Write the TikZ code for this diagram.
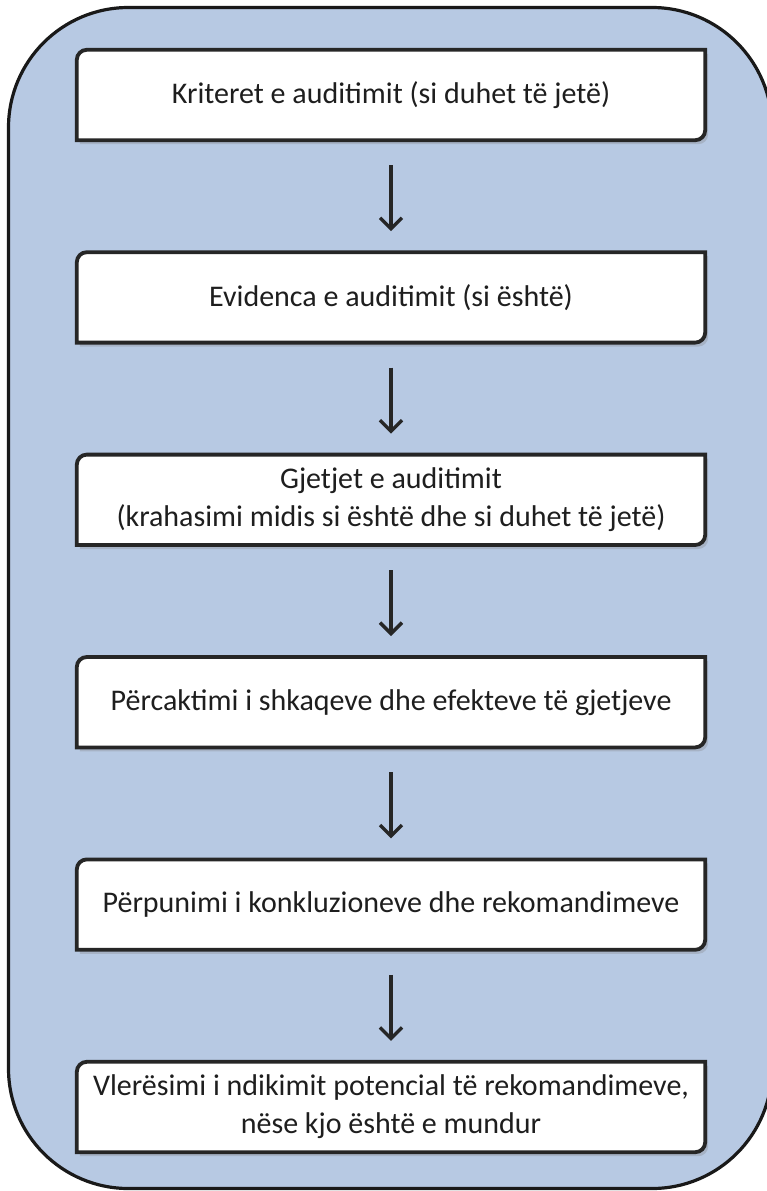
\documentclass[tikz,border=0pt]{standalone}
\usepackage{fontspec}
\setmainfont{Carlito}
\usepackage{tikz}
\usetikzlibrary{arrows.meta,positioning,shadows,backgrounds}
\definecolor{framefill}{RGB}{183,201,227}
\definecolor{textgray}{RGB}{30,30,30}
\tikzset{
  stepnode/.style={
    minimum width=628pt,
    minimum height=90pt,
    inner sep=0pt,
    align=center,
    text=textgray,
    font=\fontsize{30}{38}\selectfont
  },
  stepline/.style={
    draw=black!85,
    line width=3.8pt,
    fill=white,
    drop shadow={shadow xshift=3pt, shadow yshift=-4pt, opacity=0.3}
  },
  frameline/.style={
    draw=black!90,
    line width=3.2pt,
    fill=framefill,
    rounded corners=120pt
  },
  flowarrow/.style={
    -{Straight Barb[length=11pt,width=22pt]},
    line width=3.4pt,
    draw=black!85,
    shorten <=25pt,
    shorten >=21pt
  }
}

\begin{document}
\begin{tikzpicture}[x=1pt, y=1pt, node distance=112pt]
  \useasboundingbox (0,0) rectangle (766,-1191);

  \node[stepnode] (criteria) at (391,-95) {Kriteret e auditimit (si duhet të jetë)};
  \node[stepnode, below=of criteria] (evidence) {Evidenca e auditimit (si është)};
  \node[stepnode, below=of evidence] (findings) {Gjetjet e auditimit\\(krahasimi midis si është dhe si duhet të jetë)};
  \node[stepnode, below=of findings] (causes) {Përcaktimi i shkaqeve dhe efekteve të gjetjeve};
  \node[stepnode, below=of causes] (conclusions) {Përpunimi i konkluzioneve dhe rekomandimeve};
  \node[stepnode, below=of conclusions] (impact) {Vlerësimi i ndikimit potencial të rekomandimeve,\\nëse kjo është e mundur};

  % frame and box outlines go behind the texts
  \begin{scope}[on background layer]
    \draw[frameline] (8.5,-7.5) rectangle (772,-1188.5);
    \foreach \n in {criteria,evidence,findings,causes,conclusions,impact}
      \draw[stepline] ([yshift=-10pt]\n.north west) arc[start angle=180, end angle=90, radius=10pt]
        -- (\n.north east) -- ([yshift=10pt]\n.south east) arc[start angle=0, end angle=-90, radius=10pt]
        -- (\n.south west) -- cycle;
  \end{scope}

  \draw[flowarrow] (criteria.south) -- (evidence.north);
  \draw[flowarrow] (evidence.south) -- (findings.north);
  \draw[flowarrow] (findings.south) -- (causes.north);
  \draw[flowarrow] (causes.south) -- (conclusions.north);
  \draw[flowarrow] (conclusions.south) -- (impact.north);
\end{tikzpicture}
\end{document}
